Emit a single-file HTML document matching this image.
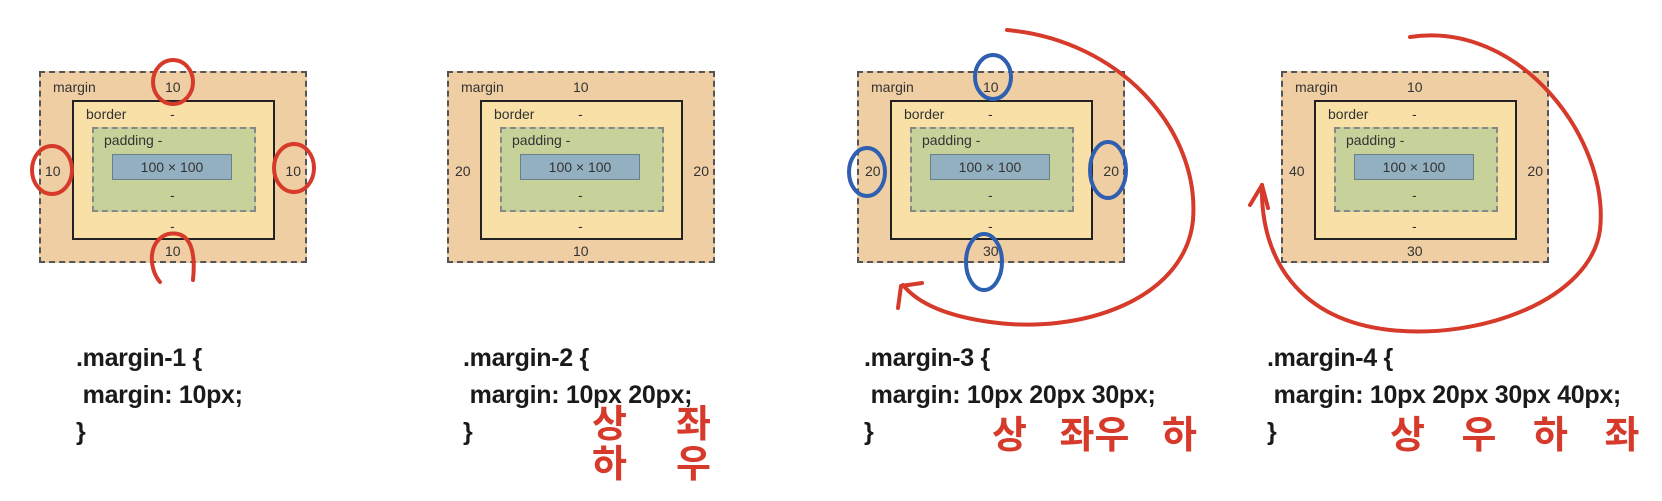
<!DOCTYPE html>
<html><head><meta charset="utf-8">
<style>
body{margin:0;width:1662px;height:501px;background:#fff;position:relative;overflow:hidden;font-family:"Liberation Sans",sans-serif}
.box{position:absolute;width:264px;height:188px;background:#f0cea4;border:2px dashed #555}
.bd{position:absolute;left:31px;top:27px;width:199px;height:136px;background:#f8e0a6;border:2px solid #222}
.pd{position:absolute;left:18px;top:25px;width:160px;height:81px;background:#c7d29b;border:2px dashed #888}
.ct{position:absolute;left:18px;top:25px;width:118px;height:24px;background:#93b0c0;border:1px solid #6a7f8a;font-size:14px;color:#333;text-align:center;line-height:24px}
.t{position:absolute;font-size:14px;color:#333;line-height:16px}
.code{position:absolute;font-weight:bold;font-size:25px;color:#1a1a1a;line-height:37px;white-space:pre;letter-spacing:-0.3px}
.kr{position:absolute;font-family:"Liberation Sans","Noto Sans CJK KR",sans-serif;color:#d63a2a;font-size:38px;font-weight:bold}
svg{position:absolute;left:0;top:0}
</style></head><body>

<div class="box" style="left:39px;top:71px">
 <div class="t" style="left:12px;top:6px">margin</div><div class="t" style="left:124px;top:6px">10</div>
 <div class="t" style="left:4px;top:90px">10</div><div class="t" style="right:4px;top:90px">10</div><div class="t" style="left:124px;top:170px">10</div>
 <div class="bd"><div class="t" style="left:12px;top:4px">border</div><div class="t" style="left:96px;top:4px">-</div><div class="t" style="left:96px;top:116px">-</div>
  <div class="pd"><div class="t" style="left:10px;top:3px">padding -</div><div class="ct">100 × 100</div><div class="t" style="left:76px;top:58px">-</div></div></div>
</div>
<div class="box" style="left:447px;top:71px">
 <div class="t" style="left:12px;top:6px">margin</div><div class="t" style="left:124px;top:6px">10</div>
 <div class="t" style="left:6px;top:90px">20</div><div class="t" style="right:4px;top:90px">20</div><div class="t" style="left:124px;top:170px">10</div>
 <div class="bd"><div class="t" style="left:12px;top:4px">border</div><div class="t" style="left:96px;top:4px">-</div><div class="t" style="left:96px;top:116px">-</div>
  <div class="pd"><div class="t" style="left:10px;top:3px">padding -</div><div class="ct">100 × 100</div><div class="t" style="left:76px;top:58px">-</div></div></div>
</div>
<div class="box" style="left:857px;top:71px">
 <div class="t" style="left:12px;top:6px">margin</div><div class="t" style="left:124px;top:6px">10</div>
 <div class="t" style="left:6px;top:90px">20</div><div class="t" style="right:4px;top:90px">20</div><div class="t" style="left:124px;top:170px">30</div>
 <div class="bd"><div class="t" style="left:12px;top:4px">border</div><div class="t" style="left:96px;top:4px">-</div><div class="t" style="left:96px;top:116px">-</div>
  <div class="pd"><div class="t" style="left:10px;top:3px">padding -</div><div class="ct">100 × 100</div><div class="t" style="left:76px;top:58px">-</div></div></div>
</div>
<div class="box" style="left:1281px;top:71px">
 <div class="t" style="left:12px;top:6px">margin</div><div class="t" style="left:124px;top:6px">10</div>
 <div class="t" style="left:6px;top:90px">40</div><div class="t" style="right:4px;top:90px">20</div><div class="t" style="left:124px;top:170px">30</div>
 <div class="bd"><div class="t" style="left:12px;top:4px">border</div><div class="t" style="left:96px;top:4px">-</div><div class="t" style="left:96px;top:116px">-</div>
  <div class="pd"><div class="t" style="left:10px;top:3px">padding -</div><div class="ct">100 × 100</div><div class="t" style="left:76px;top:58px">-</div></div></div>
</div>

<div class="code" style="left:76px;top:340px">.margin-1 {
 margin: 10px;
}</div>
<div class="code" style="left:463px;top:340px">.margin-2 {
 margin: 10px 20px;
}</div>
<div class="code" style="left:864px;top:340px">.margin-3 {
 margin: 10px 20px 30px;
}</div>
<div class="code" style="left:1267px;top:340px">.margin-4 {
 margin: 10px 20px 30px 40px;
}</div>

<div class="kr" style="left:592px;top:405px;line-height:40px">상<br>하</div>
<div class="kr" style="left:676px;top:405px;line-height:40px">좌<br>우</div>
<div class="kr" style="left:992px;top:404px;word-spacing:22px">상 좌우 하</div>
<div class="kr" style="left:1390px;top:404px;word-spacing:26px">상 우 하 좌</div>

<svg width="1662" height="501" fill="none" stroke-linecap="round">
 <g stroke="#d63a2a" stroke-width="4">
  <ellipse cx="173" cy="82" rx="20" ry="22"/>
  <ellipse cx="52" cy="170" rx="20" ry="24"/>
  <ellipse cx="294" cy="168" rx="20" ry="24"/>
  <path d="M160 282 C148 268 148 240 168 234 C190 230 196 250 193 280"/>
  <path d="M1007 30 C1120 40 1200 130 1193 220 C1185 300 1080 335 990 322 C940 315 915 300 903 285"/>
  <path d="M901 286 L898 308 M901 286 L922 283"/>
  <path d="M1410 37 C1520 20 1610 140 1600 230 C1590 300 1480 340 1390 330 C1300 320 1260 260 1262 185"/>
  <path d="M1262 185 L1250 205 M1262 185 L1268 208"/>
 </g>
 <g stroke="#2f5fb0" stroke-width="4">
  <ellipse cx="993" cy="77" rx="18" ry="22"/>
  <ellipse cx="867" cy="172" rx="18" ry="24"/>
  <ellipse cx="1108" cy="170" rx="18" ry="28"/>
  <ellipse cx="984" cy="262" rx="18" ry="28"/>
 </g>
</svg>
</body></html>
